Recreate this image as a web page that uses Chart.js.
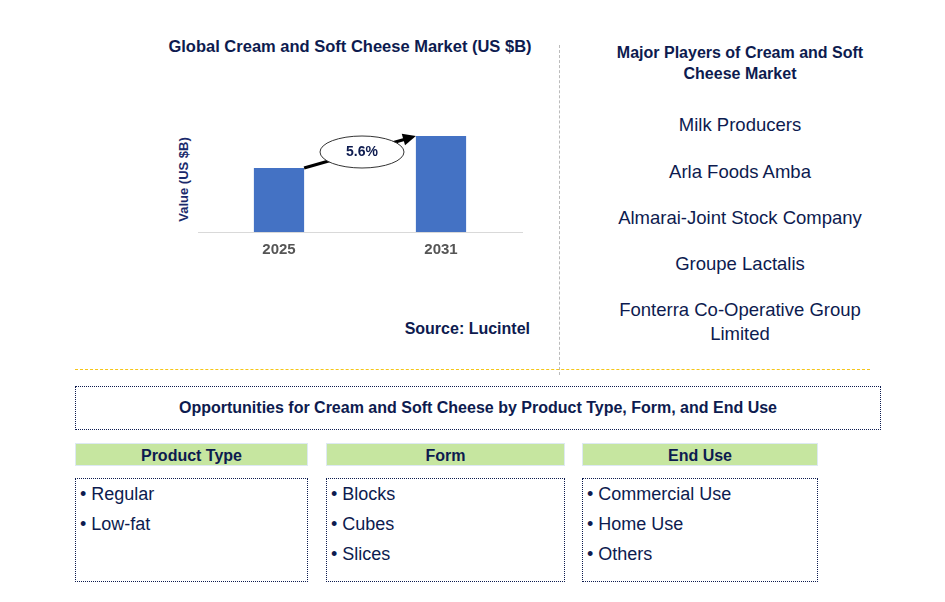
<!DOCTYPE html>
<html><head><meta charset="utf-8">
<script src="https://cdn.jsdelivr.net/npm/chart.js@4"></script>
<style>
body{margin:0;width:945px;height:602px;position:relative;background:#fff;font-family:"Liberation Sans",Arial,sans-serif;color:#0d1b4f;overflow:hidden}
.a{position:absolute}
.t{font-weight:bold;font-size:16px;text-align:center}
.pl{position:absolute;left:600px;width:280px;text-align:center;font-size:18.5px;color:#0d1b4f}
.hd{position:absolute;top:443px;height:23px;background:#c6e6a0;font-weight:bold;font-size:16px;text-align:center;line-height:23px;border:1px solid #dde9f2;box-sizing:border-box}
.bx{position:absolute;top:478px;height:104px;border:1px dotted #0d1b4f;box-sizing:border-box;font-size:18px;padding:0 0 0 4px;line-height:30px}
</style></head><body>
<div class="a t" style="left:150px;top:37px;width:400px;font-size:16.5px">Global Cream and Soft Cheese Market (US $B)</div>
<div class="a" style="left:128px;top:172px;width:110px;transform:rotate(-90deg);text-align:center;font-weight:bold;font-size:13px;color:#1a2a6c">Value (US $B)</div>
<div class="a" style="left:160px;top:100px;width:380px;height:168px"><canvas id="c" width="380" height="168"></canvas></div>
<div class="a t" style="left:380px;top:320px;width:150px;text-align:right">Source: Lucintel</div>
<div class="a" style="left:559px;top:45px;height:330px;border-left:1px dashed #bbb"></div>
<div class="a t" style="left:595px;top:42px;width:290px;line-height:21px">Major Players of Cream and Soft Cheese Market</div>
<div class="pl" style="top:114px">Milk Producers</div>
<div class="pl" style="top:161px">Arla Foods Amba</div>
<div class="pl" style="top:207px">Almarai-Joint Stock Company</div>
<div class="pl" style="top:253px">Groupe Lactalis</div>
<div class="pl" style="top:298px;line-height:24px">Fonterra Co-Operative Group Limited</div>
<div class="a" style="left:75px;top:369px;width:795px;border-top:1px dashed #f5c518"></div>
<div class="a t" style="left:75px;top:386px;width:806px;height:44px;border:1px dotted #0d1b4f;box-sizing:border-box;line-height:42px;font-size:16px">Opportunities for Cream and Soft Cheese by Product Type, Form, and End Use</div>
<div class="hd" style="left:75px;width:233px">Product Type</div>
<div class="hd" style="left:326px;width:239px">Form</div>
<div class="hd" style="left:582px;width:236px">End Use</div>
<div class="bx" style="left:75px;width:233px">• Regular<br>• Low-fat</div>
<div class="bx" style="left:326px;width:239px">• Blocks<br>• Cubes<br>• Slices</div>
<div class="bx" style="left:582px;width:236px">• Commercial Use<br>• Home Use<br>• Others</div>
<script>
const years=["2025","2031"];
const values=[2.0,3.0];
const cagr="5.6%";
const arrowPlugin={id:'arr',afterDatasetsDraw(ch){
 const m=ch.getDatasetMeta(0).data;const ctx=ch.ctx;
 const x1=m[0].x+m[0].width/2,y1=m[0].y,x2=m[1].x-m[1].width/2,y2=m[1].y;
 ctx.save();ctx.strokeStyle='#000';ctx.lineWidth=3;
 ctx.beginPath();ctx.moveTo(x1,y1);ctx.lineTo(x2-10,y2+3);ctx.stroke();
 const ang=Math.atan2(y2-y1,x2-x1);
 ctx.fillStyle='#000';ctx.beginPath();ctx.moveTo(x2,y2);
 ctx.lineTo(x2-13*Math.cos(ang)+6*Math.sin(ang),y2-13*Math.sin(ang)-6*Math.cos(ang));
 ctx.lineTo(x2-13*Math.cos(ang)-6*Math.sin(ang),y2-13*Math.sin(ang)+6*Math.cos(ang));ctx.fill();
 const cx=(x1+x2)/2+2,cy=(y1+y2)/2;
 ctx.beginPath();ctx.ellipse(cx,cy,42,16,0,0,Math.PI*2);ctx.fillStyle='#fff';ctx.fill();
 ctx.lineWidth=1;ctx.strokeStyle='#333';ctx.stroke();
 ctx.fillStyle='#0d1b4f';ctx.font='bold 14px "Liberation Sans",Arial';ctx.textAlign='center';ctx.textBaseline='middle';
 ctx.fillText(cagr,cx,cy);ctx.restore();}};
new Chart(document.getElementById('c'),{type:'bar',
 data:{labels:years,datasets:[{data:values,backgroundColor:'#4472c4',barPercentage:0.31,categoryPercentage:1}]},
 options:{responsive:false,animation:false,maintainAspectRatio:false,
  layout:{padding:{left:38,right:18,top:0,bottom:8}},
  plugins:{legend:{display:false},tooltip:{enabled:false}},
  scales:{y:{display:false,min:0,max:4.125},
   x:{grid:{display:false},border:{color:'#d9d9d9'},ticks:{color:'#555',padding:1,font:{weight:'bold',size:15,family:'"Liberation Sans",Arial'}}}}},
 plugins:[arrowPlugin]});
</script>
</body></html>
